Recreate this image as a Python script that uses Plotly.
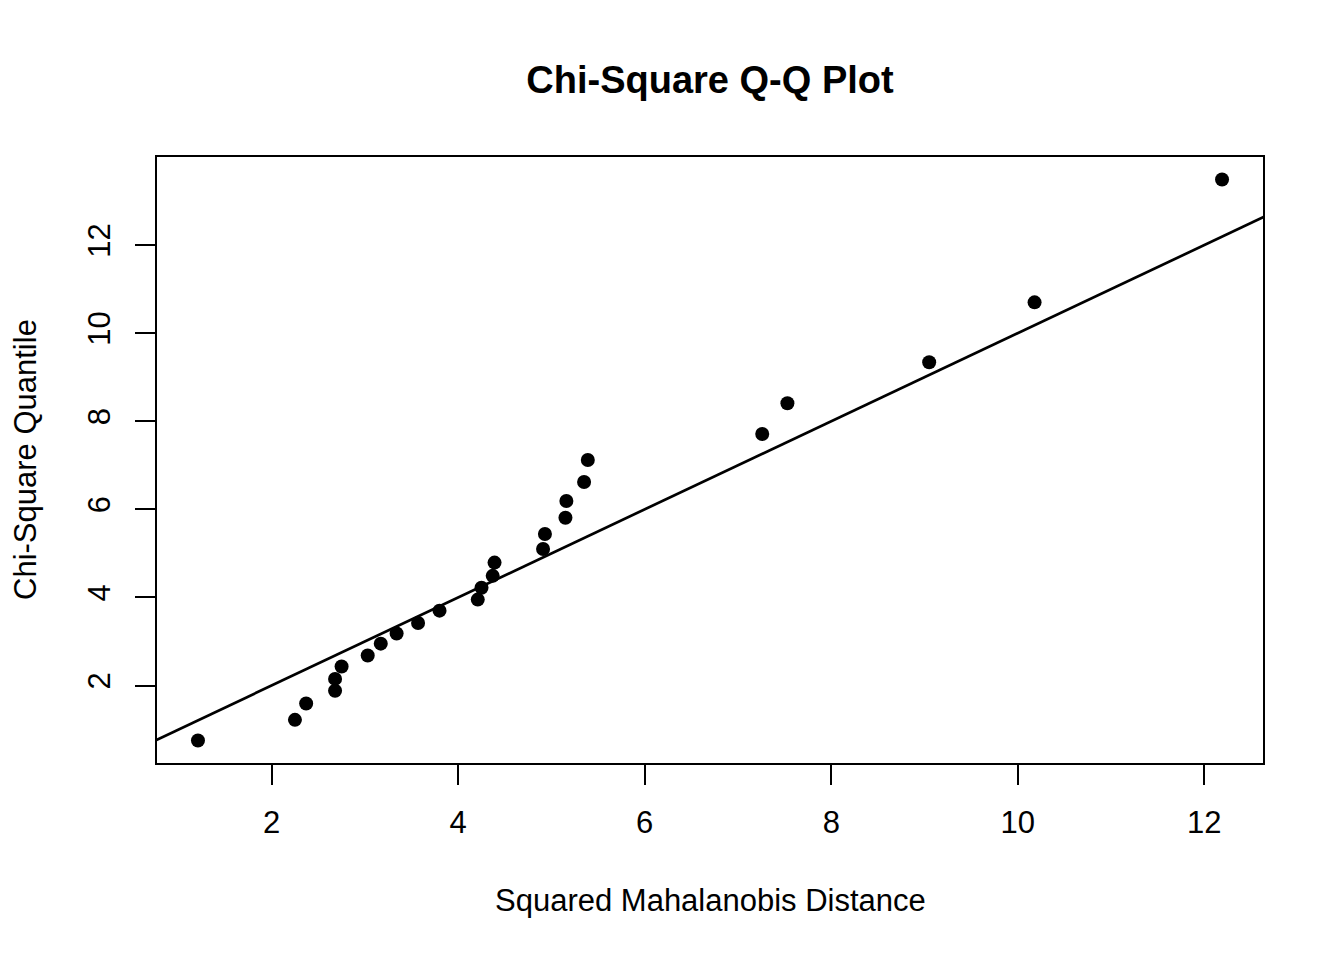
import plotly.graph_objects as go

# squared Mahalanobis distances vs chi-square quantiles
mahal_dist = [1.21, 2.25, 2.37, 2.68, 2.68, 2.75, 3.03, 3.17, 3.34, 3.57,
              3.80, 4.21, 4.25, 4.37, 4.39, 4.91, 4.93, 5.15, 5.16, 5.35,
              5.39, 7.26, 7.53, 9.05, 10.18, 12.19]
chisq_quant = [0.75, 1.22, 1.59, 1.88, 2.15, 2.43, 2.68, 2.95, 3.18, 3.42,
               3.70, 3.95, 4.22, 4.49, 4.79, 5.10, 5.44, 5.81, 6.19, 6.62,
               7.12, 7.71, 8.41, 9.34, 10.70, 13.49]
ref_intercept = 0
ref_slope = 1
x_ticks = [2, 4, 6, 8, 10, 12]
y_ticks = [2, 4, 6, 8, 10, 12]


def r_range(v):
    # R's default 4% axis padding
    lo, hi = min(v), max(v)
    pad = (hi - lo) * 0.04
    return [lo - pad, hi + pad]


xr = r_range(mahal_dist)
yr = r_range(chisq_quant)

fig = go.Figure()
fig.add_trace(go.Scatter(
    x=mahal_dist, y=chisq_quant, mode="markers",
    marker=dict(color="black", size=14), cliponaxis=False, showlegend=False,
))
line_x = [xr[0] - 1, xr[1] + 1]
fig.add_trace(go.Scatter(
    x=line_x, y=[ref_intercept + ref_slope * v for v in line_x], mode="lines",
    line=dict(color="black", width=2.7), showlegend=False,
))

font = "Liberation Sans, Arial, sans-serif"
axis_common = dict(
    showgrid=False, zeroline=False, showline=True, mirror=True,
    linecolor="black", linewidth=1.7, ticks="outside", ticklen=20,
    tickwidth=1.7, tickcolor="black",
    tickfont=dict(family=font, size=31, color="black"),
)
fig.update_xaxes(range=xr, tickvals=x_ticks, ticklabelstandoff=11, **axis_common)
fig.update_yaxes(range=yr, tickvals=y_ticks, tickangle=-90,
                 ticklabelstandoff=13, **axis_common)

fig.update_layout(
    width=1344, height=960,
    margin=dict(l=157, r=81, t=157, b=197),
    plot_bgcolor="white", paper_bgcolor="white",
    title=dict(text="<b>Chi-Square Q-Q Plot</b>", x=710 / 1344, xanchor="center",
               y=1 - 80 / 960, yanchor="middle",
               font=dict(family=font, size=38, color="black")),
    annotations=[
        dict(text="Squared Mahalanobis Distance", xref="paper", yref="paper",
             x=0.5, y=0, yshift=-137, showarrow=False, yanchor="middle",
             font=dict(family=font, size=31, color="black")),
        dict(text="Chi-Square Quantile", xref="paper", yref="paper",
             x=0, y=0.5, xshift=-132, textangle=-90, showarrow=False,
             xanchor="center", font=dict(family=font, size=31, color="black")),
    ],
)

fig.write_html("out.html", config={"displayModeBar": False},
               post_script="document.body.style.margin='0';")
